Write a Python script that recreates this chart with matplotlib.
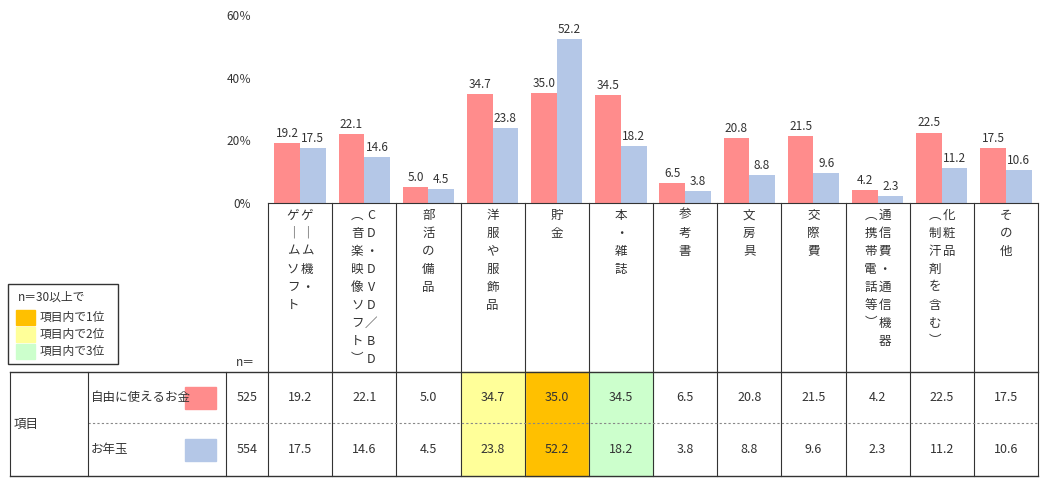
import matplotlib
matplotlib.use("Agg")
import matplotlib.pyplot as plt
import numpy as np

plt.rcParams['font.family'] = ['Noto Sans CJK JP', 'DejaVu Sans']

categories = [["ゲーム機・", "ゲームソフト"], ["CD・DVD／BD", "（音楽映像ソフト）"], ["部活の備品"],
              ["洋服や服飾品"], ["貯金"], ["本・雑誌"], ["参考書"], ["文房具"], ["交際費"],
              ["通信費・通信機器", "（携帯電話等）"], ["化粧品", "（制汗剤を含む）"], ["その他"]]
free_money = [19.2, 22.1, 5.0, 34.7, 35.0, 34.5, 6.5, 20.8, 21.5, 4.2, 22.5, 17.5]
otoshidama = [17.5, 14.6, 4.5, 23.8, 52.2, 18.2, 3.8, 8.8, 9.6, 2.3, 11.2, 10.6]
series_names = ["自由に使えるお金", "お年玉"]
n_values = [525, 554]
# rank highlight per column index (same for both rows here)
rank_cols = {4: 1, 3: 2, 5: 3}

RED = "#FF8C8C"
BLUE = "#B4C7E7"
RANK_COL = {1: "#FFC000", 2: "#FFFF99", 3: "#CCFFCC"}

W, H = 1046, 490
fig = plt.figure(figsize=(W / 100, H / 100), dpi=100)

x0, x1, ytop, ybot = 268, 1038, 15, 203
ax = fig.add_axes([x0 / W, 1 - ybot / H, (x1 - x0) / W, (ybot - ytop) / H])
n = len(categories)
x = np.arange(n)
bw = 0.4
ax.bar(x - bw / 2, free_money, bw, color=RED)
ax.bar(x + bw / 2, otoshidama, bw, color=BLUE)
for i in range(n):
    ax.text(x[i] - bw / 2, free_money[i] + 1, f"{free_money[i]:.1f}", ha='center', va='bottom', fontsize=8.5, color='#333333')
    ax.text(x[i] + bw / 2, otoshidama[i] + 1, f"{otoshidama[i]:.1f}", ha='center', va='bottom', fontsize=8.5, color='#333333')
ax.set_xlim(-0.5, n - 0.5)
ax.set_ylim(0, 60)
ax.set_yticks([0, 20, 40, 60])
ax.set_yticklabels(["0%", "20％", "40％", "60％"], fontsize=8.5, color='#333333')
ax.tick_params(axis='y', length=0, pad=12)
ax.set_xticks([])
for s in ['top', 'right', 'left']:
    ax.spines[s].set_visible(False)
ax.spines['bottom'].set_color('#333333')

# overlay in pixel coords
ov = fig.add_axes([0, 0, 1, 1])
ov.set_xlim(0, W)
ov.set_ylim(H, 0)
ov.axis('off')
ov.patch.set_alpha(0)

colw = (x1 - x0) / n
t_top, t_mid, t_bot = 372, 423, 476
lc = '#333333'

# rank cell fills
for c, r in rank_cols.items():
    ov.add_patch(plt.Rectangle((x0 + c * colw, t_top), colw, t_bot - t_top, color=RANK_COL[r], zorder=0))

# column separators
for i in range(n + 1):
    xx = x0 + i * colw
    ov.plot([xx, xx], [ybot, t_bot], color=lc, lw=0.8)
# table lines
ov.plot([10, x1], [t_top, t_top], color=lc, lw=1)
ov.plot([10, x1], [t_bot, t_bot], color=lc, lw=1)
ov.plot([88, x1], [t_mid, t_mid], color='#888888', lw=0.8, ls=(0, (2, 2)))
for xx in [10, 88, 226]:
    ov.plot([xx, xx], [t_top, t_bot], color=lc, lw=0.8)

# vertical category labels
vmap = {'ー': '｜', '（': '︵', '）': '︶', '／': '／'}
step = 18
for i, lines in enumerate(categories):
    cx = x0 + (i + 0.5) * colw
    offs = [0] if len(lines) == 1 else [7, -7]
    for line, dx in zip(lines, offs):
        for k, ch in enumerate(line):
            ov.text(cx + dx, 215 + k * step, vmap.get(ch, ch), ha='center', va='center', fontsize=9, color='#333333')

# table text
ov.text(14, (t_top + t_bot) / 2, "項目", ha='left', va='center', fontsize=9, color='#333333')
ov.text(255, 362, "n＝", ha='right', va='center', fontsize=8.5, color='#333333')
rows = [free_money, otoshidama]
ycs = [(t_top + t_mid) / 2, (t_mid + t_bot) / 2]
for r, (name, col, nv, vals, yc) in enumerate(zip(series_names, [RED, BLUE], n_values, rows, ycs)):
    ov.text(91, yc, name, ha='left', va='center', fontsize=9, color='#333333')
    ov.add_patch(plt.Rectangle((185, yc - 11), 31, 22, color=col))
    ov.text(247, yc, str(nv), ha='center', va='center', fontsize=9, color='#333333')
    for i, v in enumerate(vals):
        ov.text(x0 + (i + 0.5) * colw, yc, f"{v:.1f}", ha='center', va='center', fontsize=9, color='#333333')

# rank legend box
ov.add_patch(plt.Rectangle((8, 284), 110, 80, fill=False, ec=lc, lw=1))
ov.text(18, 297, "n＝30以上で", ha='left', va='center', fontsize=8.5, color='#333333')
for k, r in enumerate([1, 2, 3]):
    yy = 317 + k * 17
    ov.add_patch(plt.Rectangle((16, yy - 7), 19, 15, color=RANK_COL[r]))
    ov.text(40, yy, f"項目内で{r}位", ha='left', va='center', fontsize=8.5, color='#333333')

fig.savefig("out.png", dpi=100)
